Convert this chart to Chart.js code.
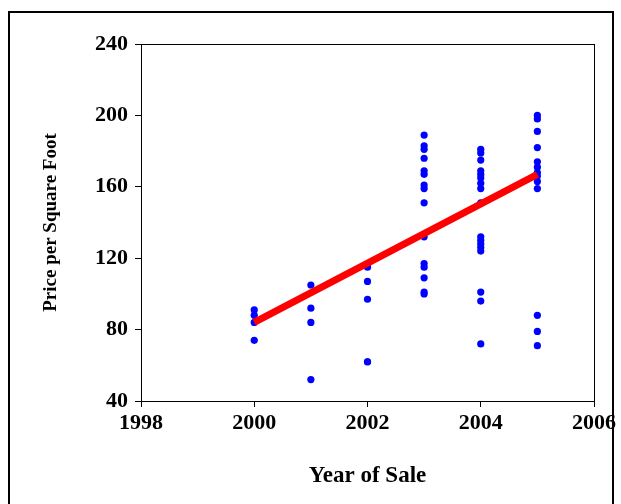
<!DOCTYPE html>
<html>
<head>
<meta charset="utf-8">
<script src="https://cdn.jsdelivr.net/npm/chart.js@4.4.1/dist/chart.umd.min.js"></script>
<style>
  html, body { margin: 0; padding: 0; background: #fff; }
  #wrap { position: relative; width: 621px; height: 504px; overflow: hidden; }
  #frame { position: absolute; left: 8px; top: 11px; width: 606px; height: 520px; border: 2px solid #000; box-sizing: border-box; }
  #chart { position: absolute; left: 0; top: 0; }
</style>
</head>
<body>
<div id="wrap">
  <div id="frame"></div>
  <canvas id="chart" width="621" height="504"></canvas>
</div>
<script>
// Sale year groups and price per square foot
const saleYears = [2000, 2001, 2002, 2003, 2004, 2005];
const prices2000 = [91, 88, 84, 74];
const prices2001 = [105, 92, 84, 52];
const prices2002 = [115, 107, 97, 62, 62];
const prices2003 = [189, 183, 181, 176, 169, 167, 161, 159, 151, 132, 117, 115, 109, 101, 100];
const prices2004 = [181, 179, 175, 169, 167, 165, 162, 159, 151, 132, 130, 128, 126, 124, 101, 96, 72];
const prices2005 = [200, 198, 191, 182, 174, 171, 168, 166, 163, 159, 88, 79, 71];

// Fitted line ends
const fitYears = [2000, 2005];
const fitPrices = [84, 167];

const xTicks = [1998, 2000, 2002, 2004, 2006];
const yTicks = [40, 80, 120, 160, 200, 240];

const groups = [prices2000, prices2001, prices2002, prices2003, prices2004, prices2005];
const scatterPts = [];
groups.forEach((arr, i) => {
    arr.forEach(p => scatterPts.push({ x: saleYears[i], y: p }));
});
const fitPts = fitYears.map((x, i) => ({ x, y: fitPrices[i] }));

const serif = "'Liberation Serif', 'Times New Roman', serif";

// box around the plot area
const boxPlugin = {
    id: 'box',
    afterDraw(chart) {
        const a = chart.chartArea;
        const ctx = chart.ctx;
        ctx.save();
        ctx.strokeStyle = '#000';
        ctx.lineWidth = 1;
        ctx.strokeRect(a.left + 0.5, a.top + 0.5, a.right - a.left, a.bottom - a.top);
        ctx.restore();
    }
};

new Chart(document.getElementById('chart'), {
    type: 'scatter',
    data: {
        datasets: [
            {
                type: 'line',
                data: fitPts,
                borderColor: '#ff0000',
                borderWidth: 7,
                pointRadius: 0,
                fill: false
            },
            {
                data: scatterPts,
                backgroundColor: '#0000ff',
                borderColor: '#0000ff',
                pointRadius: 3.6,
                borderWidth: 0
            }
        ]
    },
    options: {
        responsive: false,
        animation: false,
        layout: { padding: { left: 0, top: 44, right: 27, bottom: 0 } },
        plugins: { legend: { display: false }, tooltip: { enabled: false } },
        scales: {
            x: {
                type: 'linear',
                min: 1998, max: 2006,
                afterFit: s => { s.height = 103; },
                afterBuildTicks: s => { s.ticks = xTicks.map(v => ({ value: v })); },
                grid: { drawOnChartArea: false, color: '#000', tickLength: 6, tickWidth: 1 },
                border: { color: '#000', width: 1 },
                ticks: {
                    color: '#000', padding: 3,
                    font: { family: serif, size: 22, weight: 'bold' },
                    callback: v => String(v)
                },
                title: {
                    display: true, text: 'Year of Sale', color: '#000',
                    font: { family: serif, size: 23, weight: 'bold' },
                    padding: { top: 0, bottom: 14 }
                }
            },
            y: {
                min: 40, max: 240,
                afterFit: s => { s.width = 141; },
                afterBuildTicks: s => { s.ticks = yTicks.map(v => ({ value: v })); },
                grid: { drawOnChartArea: false, color: '#000', tickLength: 6, tickWidth: 1 },
                border: { color: '#000', width: 1 },
                ticks: {
                    color: '#000', padding: 7,
                    font: { family: serif, size: 22, weight: 'bold' }
                },
                title: {
                    display: true, text: 'Price per Square Foot', color: '#000',
                    font: { family: serif, size: 19, weight: 'bold' },
                    padding: { top: 40, bottom: 0 }
                }
            }
        }
    },
    plugins: [boxPlugin]
});
</script>
</body>
</html>
